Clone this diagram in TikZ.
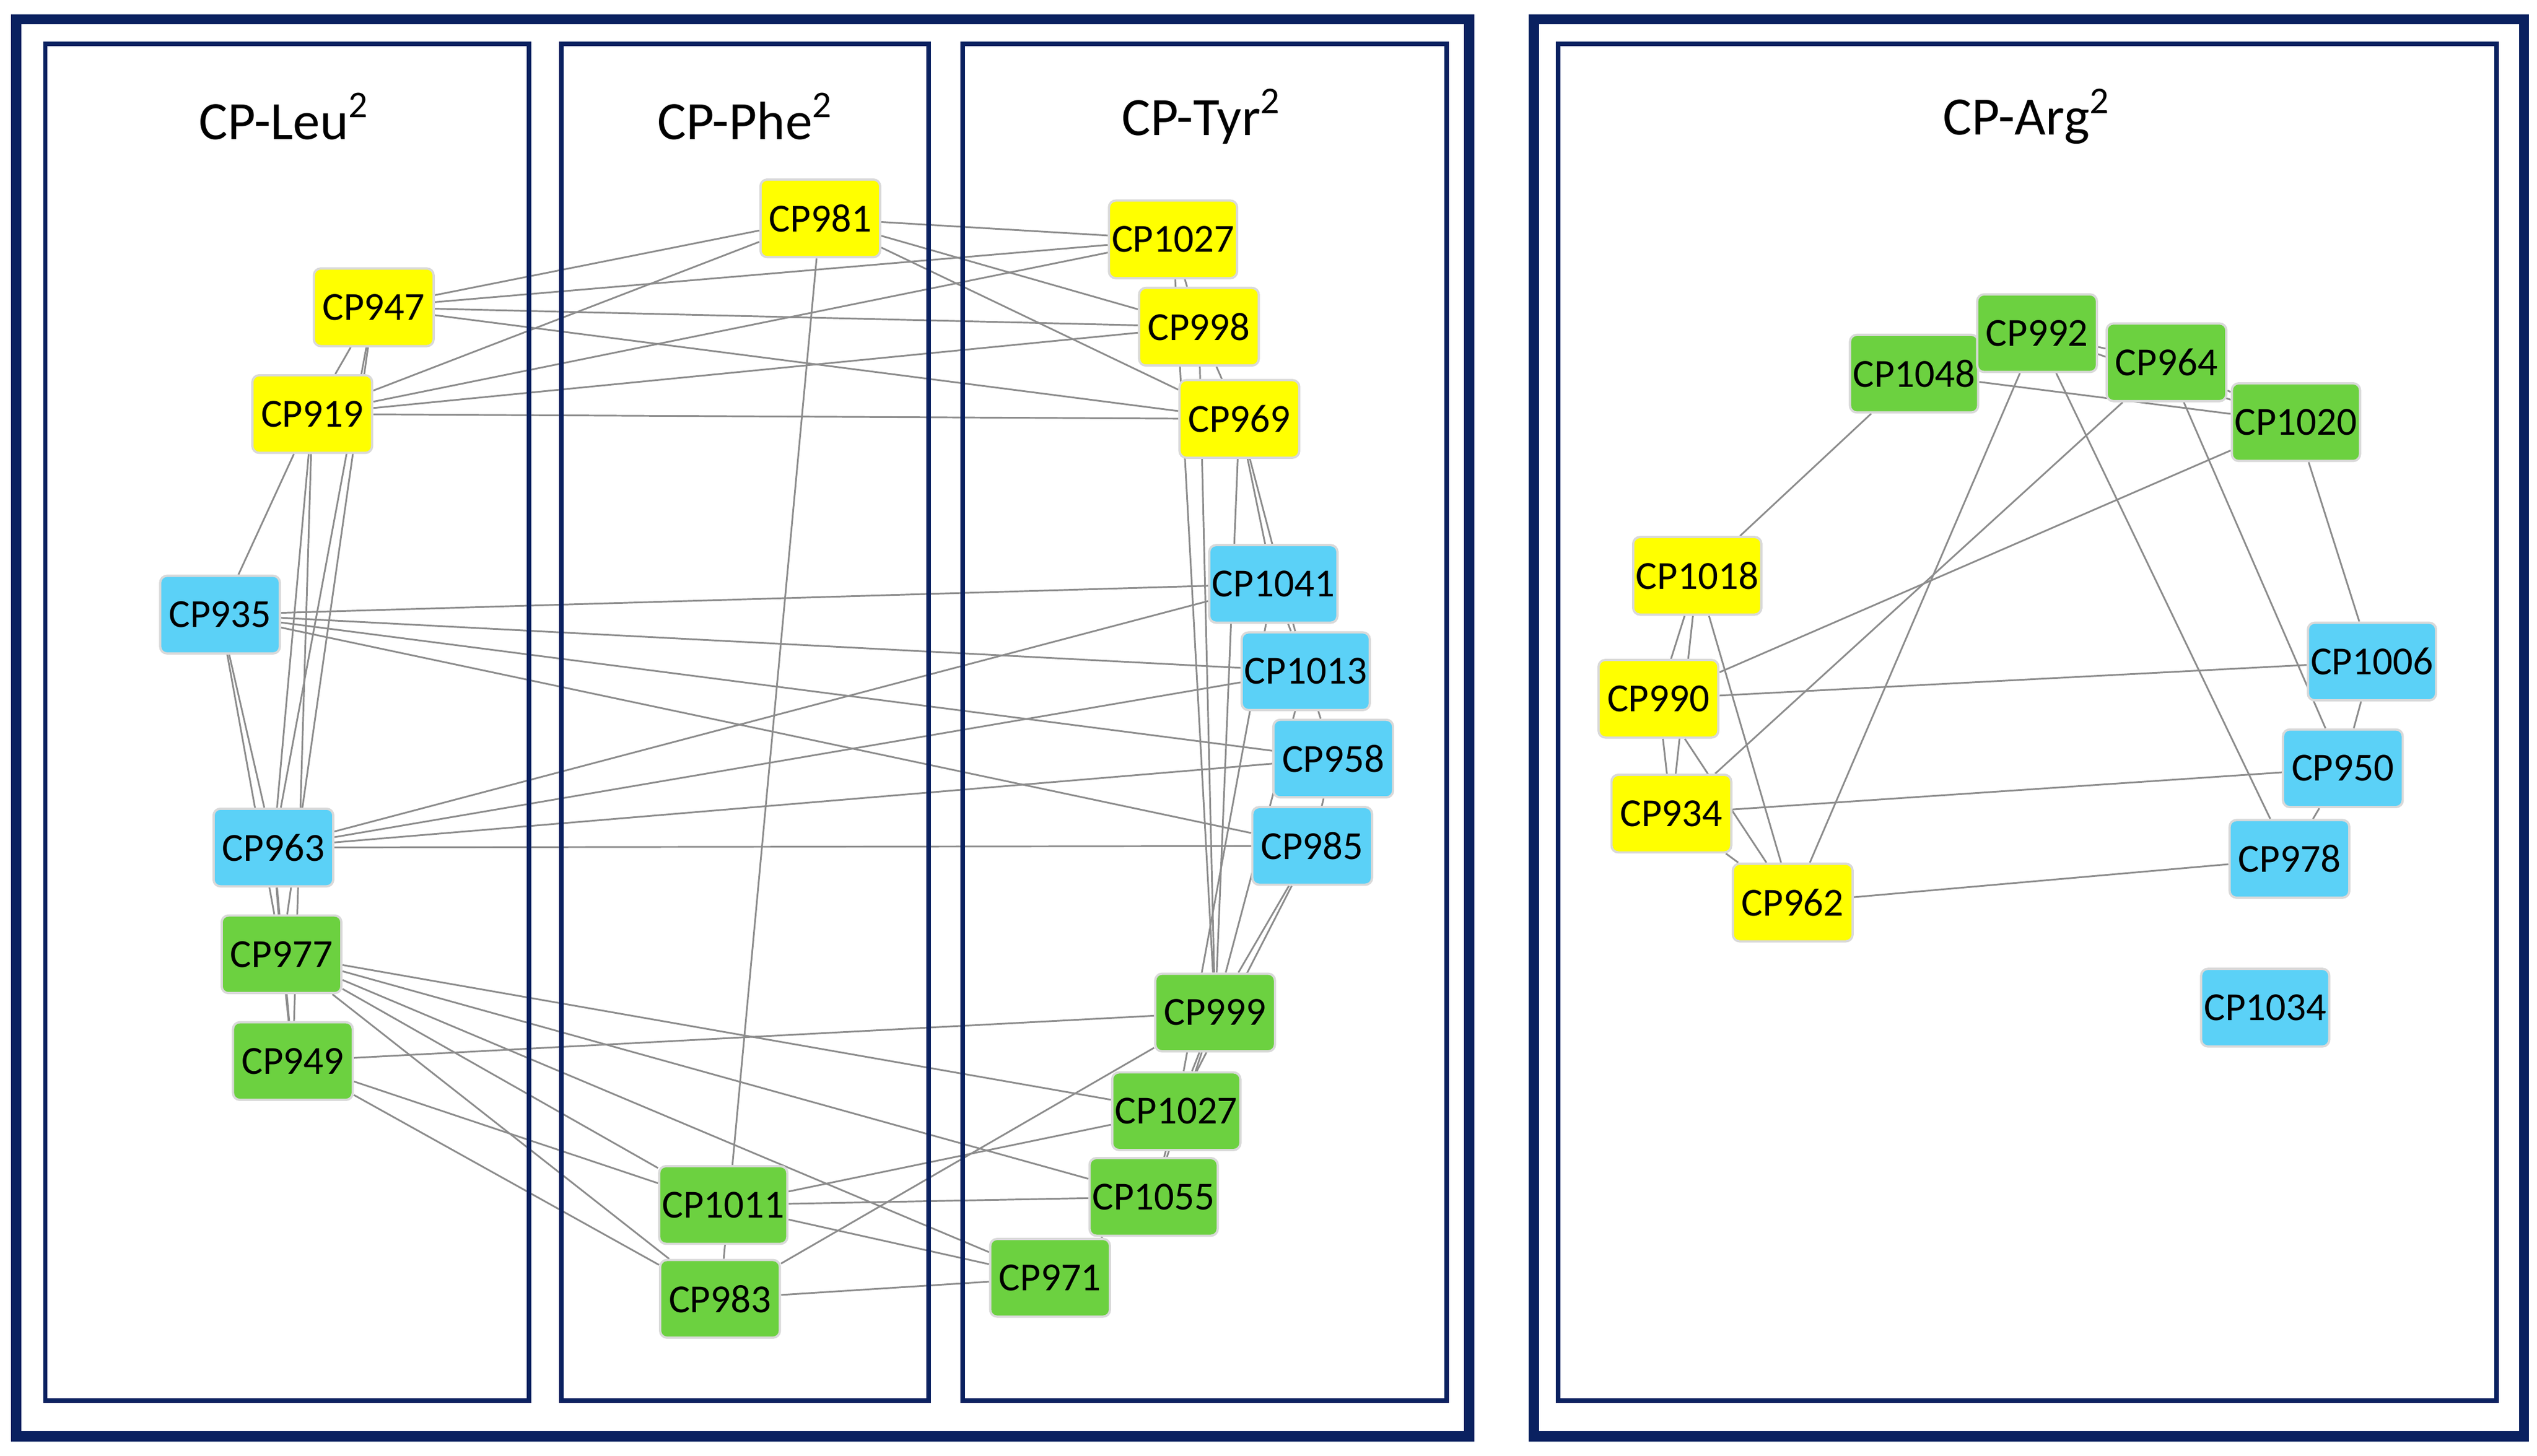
\documentclass[tikz,border=0pt]{standalone}
\usepackage{fontspec}
\setmainfont{Carlito}
\usetikzlibrary{backgrounds}
\definecolor{navy}{HTML}{0A2160}
\definecolor{cpyel}{HTML}{FFFF00}
\definecolor{cpblu}{HTML}{5BD1F7}
\definecolor{cpgrn}{HTML}{6CD140}
\tikzset{
  cp/.style={draw=black!15,rounded corners=1.2pt,minimum width=7.4mm,minimum height=4.8mm,inner sep=0.5pt,font=\fontsize{7}{8}\selectfont},
  yel/.style={cp,fill=cpyel},
  blu/.style={cp,fill=cpblu},
  grn/.style={cp,fill=cpgrn},
  link/.style={draw=black!45,line width=0.3pt},
  panel/.style={draw=navy,line width=0.8pt},
  outer/.style={draw=navy,line width=1.8pt},
  title/.style={font=\fontsize{9.5}{11}\selectfont}
}
\begin{document}
\begin{tikzpicture}[x=0.1mm,y=-0.1mm]
\useasboundingbox (0,0) rectangle (1568,900);
% frames
\draw[outer] (10,12) rectangle (908,888);
\draw[outer] (948,12) rectangle (1560,888);
\draw[panel] (28,27) rectangle (327,866);
\draw[panel] (347,27) rectangle (574,866);
\draw[panel] (595,27) rectangle (894,866);
\draw[panel] (963,27) rectangle (1543,866);
\node[title] (tleu) at (176,72) {CP-Leu\textsuperscript{2}};
\node[title] (tphe) at (461,72) {CP-Phe\textsuperscript{2}};
\node[title] (ttyr) at (743,72) {CP-Tyr\textsuperscript{2}};
\node[title] (targ) at (1253,72) {CP-Arg\textsuperscript{2}};
% left network
\node[yel] (n981) at (507,135) {CP981};
\node[yel] (n947) at (231,190) {CP947};
\node[yel] (n919) at (193,256) {CP919};
\node[yel] (n1027a) at (725,148) {CP1027};
\node[yel] (n998) at (741,202) {CP998};
\node[yel] (n969) at (766,259) {CP969};
\node[blu] (n935) at (136,380) {CP935};
\node[blu] (n1041) at (787,361) {CP1041};
\node[blu] (n1013) at (807,415) {CP1013};
\node[blu] (n958) at (824,469) {CP958};
\node[blu] (n985) at (811,523) {CP985};
\node[blu] (n963) at (169,524) {CP963};
\node[grn] (n977) at (174,590) {CP977};
\node[grn] (n949) at (181,656) {CP949};
\node[grn] (n999) at (751,626) {CP999};
\node[grn] (n1027b) at (727,687) {CP1027};
\node[grn] (n1055) at (713,740) {CP1055};
\node[grn] (n1011) at (447,745) {CP1011};
\node[grn] (n983) at (445,803) {CP983};
\node[grn] (n971) at (649,790) {CP971};
% right network
\node[grn] (n1048) at (1183,231) {CP1048};
\node[grn] (n992) at (1259,206) {CP992};
\node[grn] (n964) at (1339,224) {CP964};
\node[grn] (n1020) at (1419,261) {CP1020};
\node[yel] (n1018) at (1049,356) {CP1018};
\node[yel] (n990) at (1025,432) {CP990};
\node[yel] (n934) at (1033,503) {CP934};
\node[yel] (n962) at (1108,558) {CP962};
\node[blu] (n1006) at (1466,409) {CP1006};
\node[blu] (n950) at (1448,475) {CP950};
\node[blu] (n978) at (1415,531) {CP978};
\node[blu] (n1034) at (1400,623) {CP1034};
\begin{scope}[on background layer]
\foreach \a/\b in {981/1027a,981/998,981/969,981/947,981/919,981/983,
  947/1027a,947/998,947/969,947/919,947/963,947/977,
  919/1027a,919/998,919/969,919/935,919/963,919/949,
  935/1041,935/1013,935/958,935/985,935/963,935/977,
  963/1041,963/1013,963/958,963/985,963/977,963/949,
  977/949,977/1027b,977/1055,977/971,977/1011,977/983,
  949/999,949/1011,949/983,
  1011/1027b,1011/1055,1011/971,983/999,983/971,
  1027a/998,998/969,969/1041,969/1013,1027a/999,998/999,969/999,
  1041/1027b,1013/999,958/985,985/999,985/1027b,999/1027b,
  1027b/1055,1055/971,999/1055,1013/958,1041/1013}
  \draw[link] (n\a) -- (n\b);
\foreach \a/\b in {1048/1018,1048/1020,992/964,992/962,992/978,992/1020,
  964/1020,964/934,964/950,1020/990,1020/1006,
  1018/990,1018/934,1018/962,990/1006,990/934,990/962,
  934/950,934/962,962/978,1006/950,950/978}
  \draw[link] (n\a) -- (n\b);
\end{scope}
\end{tikzpicture}
\end{document}
